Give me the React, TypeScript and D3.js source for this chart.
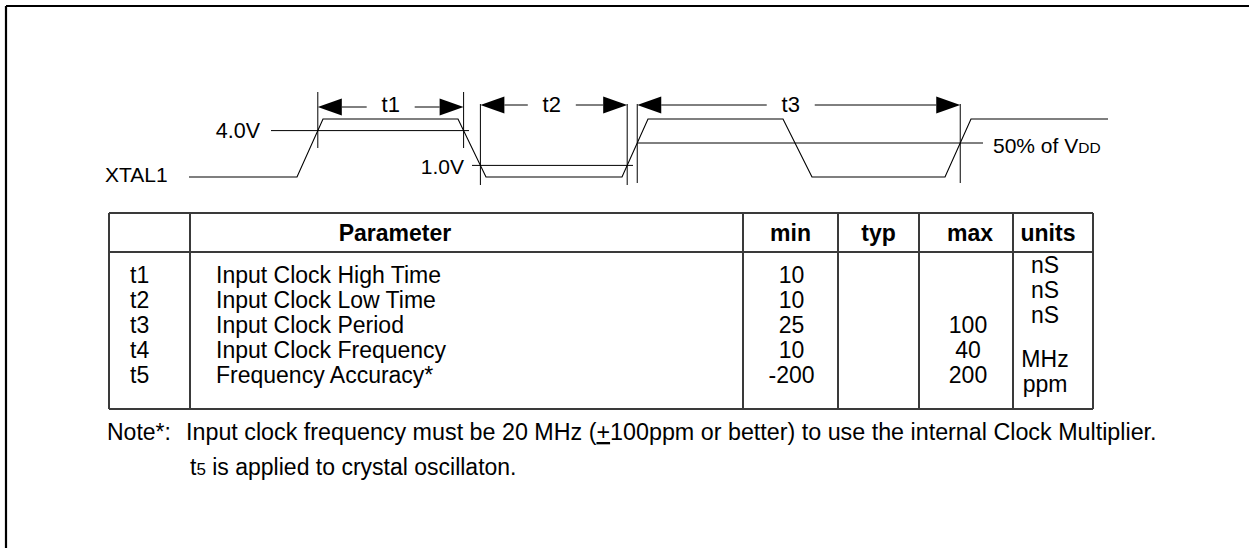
import * as d3 from "d3";

// XTAL1 waveform corners (time in ns-ish units, level in volts)
const waveTimes = [0, 10.8, 13.4, 26.9, 29.7, 43.3, 45.9, 59.4, 62.3, 75.6, 78.2, 91.9];
const waveVolts = [0, 0, 5, 5, 0, 0, 5, 5, 0, 0, 5, 5];

// threshold reference lines
const refLabels = ["4.0V", "1.0V", "50% of V"];
const refVolts = [4.0, 1.0, 2.93];
const refStart = [8.2, 28.3, 44.9];
const refEnd = [28.0, 44.4, 79.4];

// timing dimensions: measured between two edge crossings at a given level
const dimLabels = ["t1", "t2", "t3"];
const dimFromEdge = [1, 3, 5];
const dimToEdge = [3, 5, 9];
const dimLevel = [4.0, 1.0, 2.93];

// table
const headers = ["", "Parameter", "min", "typ", "max", "units"];
const symbols = ["t1", "t2", "t3", "t4", "t5"];
const parameters = [
  "Input Clock High Time",
  "Input Clock Low Time",
  "Input Clock Period",
  "Input Clock Frequency",
  "Frequency Accuracy*",
];
const minValues = ["10", "10", "25", "10", "-200"];
const typValues = ["", "", "", "", ""];
const maxValues = ["", "", "100", "40", "200"];
const unitValues = ["nS", "nS", "nS", "MHz", "ppm"];

const FONT = "'Liberation Sans', Arial, Helvetica, sans-serif";

export default function App() {
  const W = 1249;
  const H = 548;

  const x = d3.scaleLinear().domain([0, 92]).range([189, 1109]);
  const y = d3.scaleLinear().domain([0, 5]).range([177, 119]);
  const line = d3.line();

  const wave = waveTimes.map((t, i) => [x(t), y(waveVolts[i])] as [number, number]);

  const cross = (seg: number, v: number) => {
    const t0 = waveTimes[seg];
    const t1 = waveTimes[seg + 1];
    const v0 = waveVolts[seg];
    const v1 = waveVolts[seg + 1];
    return x(t0 + ((v - v0) / (v1 - v0)) * (t1 - t0));
  };

  // dimension layout (arrow row, tick extents, label nudge)
  const arrowY = [107, 105, 105];
  const tickTop = [92, 104, 104];
  const tickBottom = [148, 185, 183];
  const labelNudge = [0, -2, -8];
  const head = 24;
  const half = 8.5;
  const labelGap = 13;

  // table layout
  const colEdges = [109, 190, 743, 838, 919, 1013, 1093];
  const tableTop = 213;
  const headBottom = 252;
  const tableBottom = 409;
  const rowY = d3.scaleLinear().domain([0, 4]).range([283, 383]);
  const unitShift = [-10, -10, -10, 9, 9];
  const colCenter = (i: number) => (colEdges[i] + colEdges[i + 1]) / 2;

  return (
    <div style={{ position: "absolute", left: 0, top: 0, overflow: "hidden" }}>
      <svg width={W} height={H} style={{ display: "block", background: "#fff" }} fontFamily={FONT}>
        {/* frame */}
        <line x1={6} y1={6} x2={W} y2={6} stroke="#000" strokeWidth={2.2} />
        <line x1={6} y1={6} x2={6} y2={H} stroke="#000" strokeWidth={2.2} />

        {/* signal name */}
        <text x={105} y={182} fontSize={21}>XTAL1</text>

        {/* reference lines */}
        {refLabels.map((lab, i) => (
          <line
            key={lab}
            x1={x(refStart[i])}
            x2={x(refEnd[i])}
            y1={y(refVolts[i])}
            y2={y(refVolts[i])}
            stroke="#000"
            strokeWidth={1}
          />
        ))}
        <text x={x(refStart[0]) - 11} y={y(refVolts[0]) + 7} fontSize={21.5} textAnchor="end">
          {refLabels[0]}
        </text>
        <text x={x(refStart[1]) - 8} y={y(refVolts[1]) + 9} fontSize={21} textAnchor="end">
          {refLabels[1]}
        </text>
        <text x={x(refEnd[2]) + 10} y={y(refVolts[2]) + 10} fontSize={21}>
          {refLabels[2]}
          <tspan fontSize={15.5}>DD</tspan>
        </text>

        {/* waveform */}
        <path d={line(wave) || ""} fill="none" stroke="#000" strokeWidth={1.1} />

        {/* timing dimensions */}
        {dimLabels.map((lab, i) => {
          const xa = cross(dimFromEdge[i], dimLevel[i]);
          const xb = cross(dimToEdge[i], dimLevel[i]);
          const ay = arrowY[i];
          const cx = (xa + xb) / 2 + labelNudge[i];
          const lw = 22;
          return (
            <g key={lab}>
              <line x1={xa} x2={xa} y1={tickTop[i]} y2={tickBottom[i]} stroke="#000" strokeWidth={1} />
              <line x1={xb} x2={xb} y1={tickTop[i]} y2={tickBottom[i]} stroke="#000" strokeWidth={1} />
              <path d={`M${xa},${ay} L${xa + head},${ay - half} L${xa + head},${ay + half} Z`} fill="#000" />
              <path d={`M${xb},${ay} L${xb - head},${ay - half} L${xb - head},${ay + half} Z`} fill="#000" />
              <line x1={xa + head} x2={cx - lw / 2 - labelGap} y1={ay} y2={ay} stroke="#000" strokeWidth={1} />
              <line x1={cx + lw / 2 + labelGap} x2={xb - head} y1={ay} y2={ay} stroke="#000" strokeWidth={1} />
              <text x={cx} y={112} fontSize={22} textAnchor="middle">{lab}</text>
            </g>
          );
        })}

        {/* table grid */}
        <g stroke="#3a3a3a" strokeWidth={1.2} shapeRendering="crispEdges">
          {[tableTop, headBottom, tableBottom].map((yy) => (
            <line key={yy} x1={colEdges[0]} x2={colEdges[colEdges.length - 1]} y1={yy} y2={yy} />
          ))}
          {colEdges.map((xx) => (
            <line key={xx} x1={xx} x2={xx} y1={tableTop} y2={tableBottom} />
          ))}
        </g>

        {/* table header */}
        {headers.map((h, i) => (
          <text
            key={"h" + i}
            x={i === 1 ? 395 : i === 4 ? colCenter(i) + 4 : colCenter(i) - (i === 5 ? 5 : 0)}
            y={241}
            fontSize={23}
            fontWeight="bold"
            textAnchor="middle"
          >
            {h}
          </text>
        ))}

        {/* table body */}
        {symbols.map((s, i) => (
          <g key={s} fontSize={23}>
            <text x={130} y={rowY(i)}>{s}</text>
            <text x={216} y={rowY(i)}>{parameters[i]}</text>
            <text x={colCenter(2) + 1} y={rowY(i)} textAnchor="middle">{minValues[i]}</text>
            <text x={colCenter(3)} y={rowY(i)} textAnchor="middle">{typValues[i]}</text>
            <text x={colCenter(4) + 2} y={rowY(i)} textAnchor="middle">{maxValues[i]}</text>
            <text x={colCenter(5) - 8} y={rowY(i) + unitShift[i]} textAnchor="middle">{unitValues[i]}</text>
          </g>
        ))}

        {/* notes */}
        <text x={107} y={440} fontSize={23}>Note*:</text>
        <text x={186} y={440} fontSize={23.3}>
          Input clock frequency must be 20 MHz (<tspan textDecoration="underline">+</tspan>100ppm or better) to use the internal Clock Multiplier.
        </text>
        <text x={190} y={475} fontSize={23}>
          t<tspan fontSize={17}>5</tspan> is applied to crystal oscillaton.
        </text>
      </svg>
    </div>
  );
}
